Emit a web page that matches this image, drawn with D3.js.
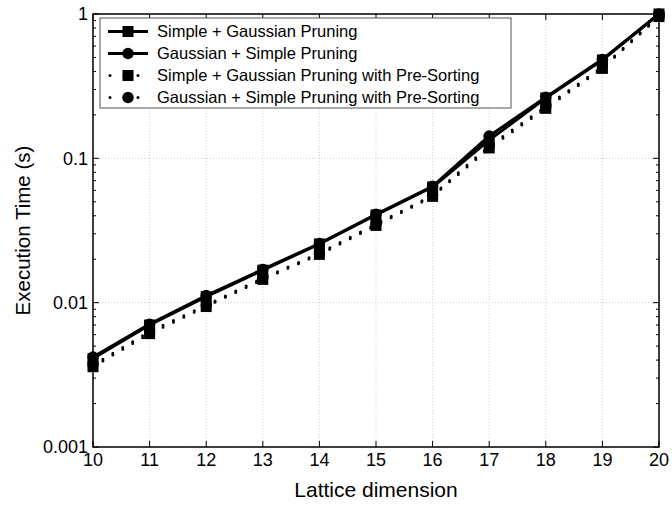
<!DOCTYPE html>
<html><head><meta charset="utf-8">
<script src="https://cdn.jsdelivr.net/npm/d3@7"></script>
<style>body{margin:0;background:#fff} svg{display:block}</style>
</head><body><svg id="c" width="672" height="505"></svg>
<script>
const dims = [10, 11, 12, 13, 14, 15, 16, 17, 18, 19, 20];
const simpleGauss    = [0.0041, 0.0070, 0.0110, 0.0168, 0.0255, 0.0405, 0.0633, 0.134, 0.262, 0.480, 1.00];
const gaussSimple    = [0.0042, 0.0071, 0.0112, 0.0170, 0.0257, 0.0410, 0.0640, 0.143, 0.265, 0.485, 1.00];
const simpleGaussPre = [0.0036, 0.0061, 0.0094, 0.0145, 0.0216, 0.0343, 0.0545, 0.118, 0.222, 0.420, 0.96];
const gaussSimplePre = [0.0037, 0.0063, 0.0096, 0.0148, 0.0220, 0.0350, 0.0555, 0.122, 0.228, 0.430, 0.97];
const seriesNames = ["Simple + Gaussian Pruning", "Gaussian + Simple Pruning",
  "Simple + Gaussian Pruning with Pre-Sorting", "Gaussian + Simple Pruning with Pre-Sorting"];
const yTickValues = [0.001, 0.01, 0.1, 1];
const yTickLabels = ["0.001", "0.01", "0.1", "1"];
const xTitle = "Lattice dimension";
const yTitle = "Execution Time (s)";

const series = [
  {name: seriesNames[0], vals: simpleGauss, marker: "square", dotted: false},
  {name: seriesNames[1], vals: gaussSimple, marker: "circle", dotted: false},
  {name: seriesNames[2], vals: simpleGaussPre, marker: "square", dotted: true},
  {name: seriesNames[3], vals: gaussSimplePre, marker: "circle", dotted: true}
];

const L = 93, R = 659, T = 14, B = 447;
const x = d3.scaleLinear().domain([10, 20]).range([L, R]);
const y = d3.scaleLog().domain([0.001, 1]).range([B, T]);
const svg = d3.select("#c");
const font = "'Liberation Sans', Arial, Helvetica, sans-serif";

// grid
const grid = svg.append("g").attr("stroke", "#cfcfcf").attr("stroke-width", 1).attr("stroke-dasharray", "1,2");
dims.forEach(d => grid.append("line").attr("x1", x(d)).attr("x2", x(d)).attr("y1", T).attr("y2", B));
yTickValues.forEach(v => grid.append("line").attr("x1", L).attr("x2", R).attr("y1", y(v)).attr("y2", y(v)));

// lines
const line = d3.line().x((d, i) => x(dims[i])).y(d => y(d));
series.forEach(s => {
  svg.append("path").datum(s.vals).attr("d", line).attr("fill", "none")
    .attr("stroke", "#000").attr("stroke-width", 3)
    .attr("stroke-linecap", "round").attr("stroke-linejoin", "round")
    .attr("stroke-dasharray", s.dotted ? "0,11.5" : null);
});
function marker(g, type, cx, cy) {
  if (type === "square") {
    g.append("rect").attr("x", cx - 5.5).attr("y", cy - 5.5).attr("width", 11).attr("height", 11).attr("fill", "#000");
  } else {
    g.append("circle").attr("cx", cx).attr("cy", cy).attr("r", 5.7).attr("fill", "#000");
  }
}
const mg = svg.append("g");
series.forEach(s => s.vals.forEach((v, i) => marker(mg, s.marker, x(dims[i]), y(v))));

// frame & ticks
const ax = svg.append("g").attr("stroke", "#000");
ax.append("rect").attr("x", L).attr("y", T).attr("width", R - L).attr("height", B - T)
  .attr("fill", "none").attr("stroke-width", 1.5);
dims.forEach(d => {
  ax.append("line").attr("x1", x(d)).attr("x2", x(d)).attr("y1", B).attr("y2", B - 6);
  ax.append("line").attr("x1", x(d)).attr("x2", x(d)).attr("y1", T).attr("y2", T + 6);
});
const minor = [];
for (let e = -3; e < 0; e++) for (let m = 2; m <= 9; m++) minor.push(m * Math.pow(10, e));
minor.forEach(v => {
  ax.append("line").attr("x1", L).attr("x2", L + 3).attr("y1", y(v)).attr("y2", y(v));
  ax.append("line").attr("x1", R).attr("x2", R - 3).attr("y1", y(v)).attr("y2", y(v));
});
yTickValues.forEach(v => {
  ax.append("line").attr("x1", L).attr("x2", L + 6).attr("y1", y(v)).attr("y2", y(v));
  ax.append("line").attr("x1", R).attr("x2", R - 6).attr("y1", y(v)).attr("y2", y(v));
});

// tick labels
const tl = svg.append("g").attr("font-family", font).attr("font-size", 18).attr("fill", "#000");
dims.forEach(d => tl.append("text").attr("x", x(d)).attr("y", B + 19).attr("text-anchor", "middle").text(d));
yTickValues.forEach((v, i) => tl.append("text").attr("x", L - 5).attr("y", y(v)).attr("dy", "0.35em")
  .attr("text-anchor", "end").text(yTickLabels[i]));

// titles
svg.append("text").attr("x", (L + R) / 2).attr("y", 497).attr("text-anchor", "middle")
  .attr("font-family", font).attr("font-size", 21).text(xTitle);
svg.append("text").attr("transform", `translate(30,${(T + B) / 2}) rotate(-90)`).attr("text-anchor", "middle")
  .attr("font-family", font).attr("font-size", 20.5).text(yTitle);

// legend
const lg = svg.append("g");
lg.append("rect").attr("x", 100).attr("y", 18).attr("width", 411).attr("height", 90)
  .attr("fill", "#fff").attr("stroke", "#555").attr("stroke-width", 1);
const rowY = [31.5, 53.5, 75.5, 97.5];
series.forEach((s, i) => {
  const ry = rowY[i];
  if (s.dotted) {
    lg.append("line").attr("x1", 110).attr("x2", 146).attr("y1", ry).attr("y2", ry)
      .attr("stroke", "#000").attr("stroke-width", 3).attr("stroke-linecap", "round").attr("stroke-dasharray", "0,14");
  } else {
    lg.append("line").attr("x1", 108).attr("x2", 148).attr("y1", ry).attr("y2", ry)
      .attr("stroke", "#000").attr("stroke-width", 3);
  }
  marker(lg, s.marker, 128, ry);
  lg.append("text").attr("x", 157).attr("y", ry).attr("dy", "0.35em")
    .attr("font-family", font).attr("font-size", 16.5).text(s.name);
});
</script>
</body></html>
